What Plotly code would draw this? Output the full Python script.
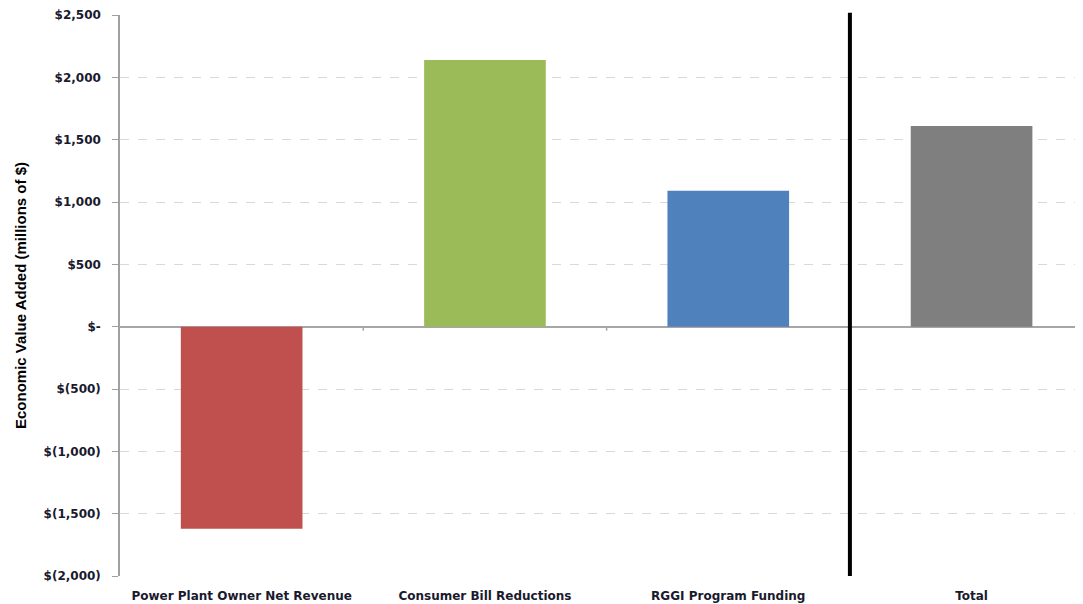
import plotly.graph_objects as go

categories = ["Power Plant Owner Net Revenue", "Consumer Bill Reductions", "RGGI Program Funding", "Total"]
values = [-1620, 2140, 1090, 1610]
colors = ["#C0504D", "#9BBB59", "#4F81BD", "#7F7F7F"]
tick_vals = [-2000, -1500, -1000, -500, 0, 500, 1000, 1500, 2000, 2500]
tick_text = ["$(2,000)", "$(1,500)", "$(1,000)", "$(500)", "$-", "$500", "$1,000", "$1,500", "$2,000", "$2,500"]

fig = go.Figure()
fig.add_trace(go.Bar(
    x=categories, y=values, marker=dict(color=colors, line=dict(width=0)),
    width=0.5, showlegend=False,
))

# small category-boundary ticks on the zero line
for i in range(len(categories) - 2):
    fig.add_shape(type="line", xref="x", yref="y", x0=i + 0.5, x1=i + 0.5,
                  ysizemode="pixel", yanchor=0, y0=0, y1=-4,
                  line=dict(color="#a6a6a6", width=1.5))

fig.add_shape(type="line", xref="x", yref="paper", x0=2.5, x1=2.5, y0=0, y1=1.004,
              line=dict(color="black", width=4))

tickfont = dict(family="DejaVu Sans", size=12, color="#1a1a2e", weight="bold")

# page body has an 8px margin, so the figure is sized to fit the window
fig.update_layout(
    width=1075, height=596,
    margin=dict(l=112, r=0, t=7, b=28),
    plot_bgcolor="white", paper_bgcolor="white",
    font=dict(family="DejaVu Sans", size=12, color="#1a1a2e"),
)
fig.update_xaxes(
    range=[-0.5, 3.458], showgrid=False, showline=False, ticks="",
    tickfont=tickfont, automargin=False, ticklabelstandoff=11,
    fixedrange=True,
)
fig.update_yaxes(
    range=[-2000, 2500], tickvals=tick_vals, ticktext=tick_text,
    showgrid=True, gridcolor="#d9d9d9", griddash="dash", gridwidth=1,
    showline=True, linecolor="#a0a0a0", linewidth=1.5,
    ticks="outside", ticklen=6, tickcolor="#a0a0a0",
    zeroline=True, zerolinecolor="#a6a6a6", zerolinewidth=1.5,
    tickfont=tickfont, automargin=False, ticklabelstandoff=9,
    title=dict(text="Economic Value Added (millions of $)",
               font=dict(family="Liberation Sans", size=15, color="black", weight="bold"),
               standoff=13),
)
fig.write_html("out.html")
